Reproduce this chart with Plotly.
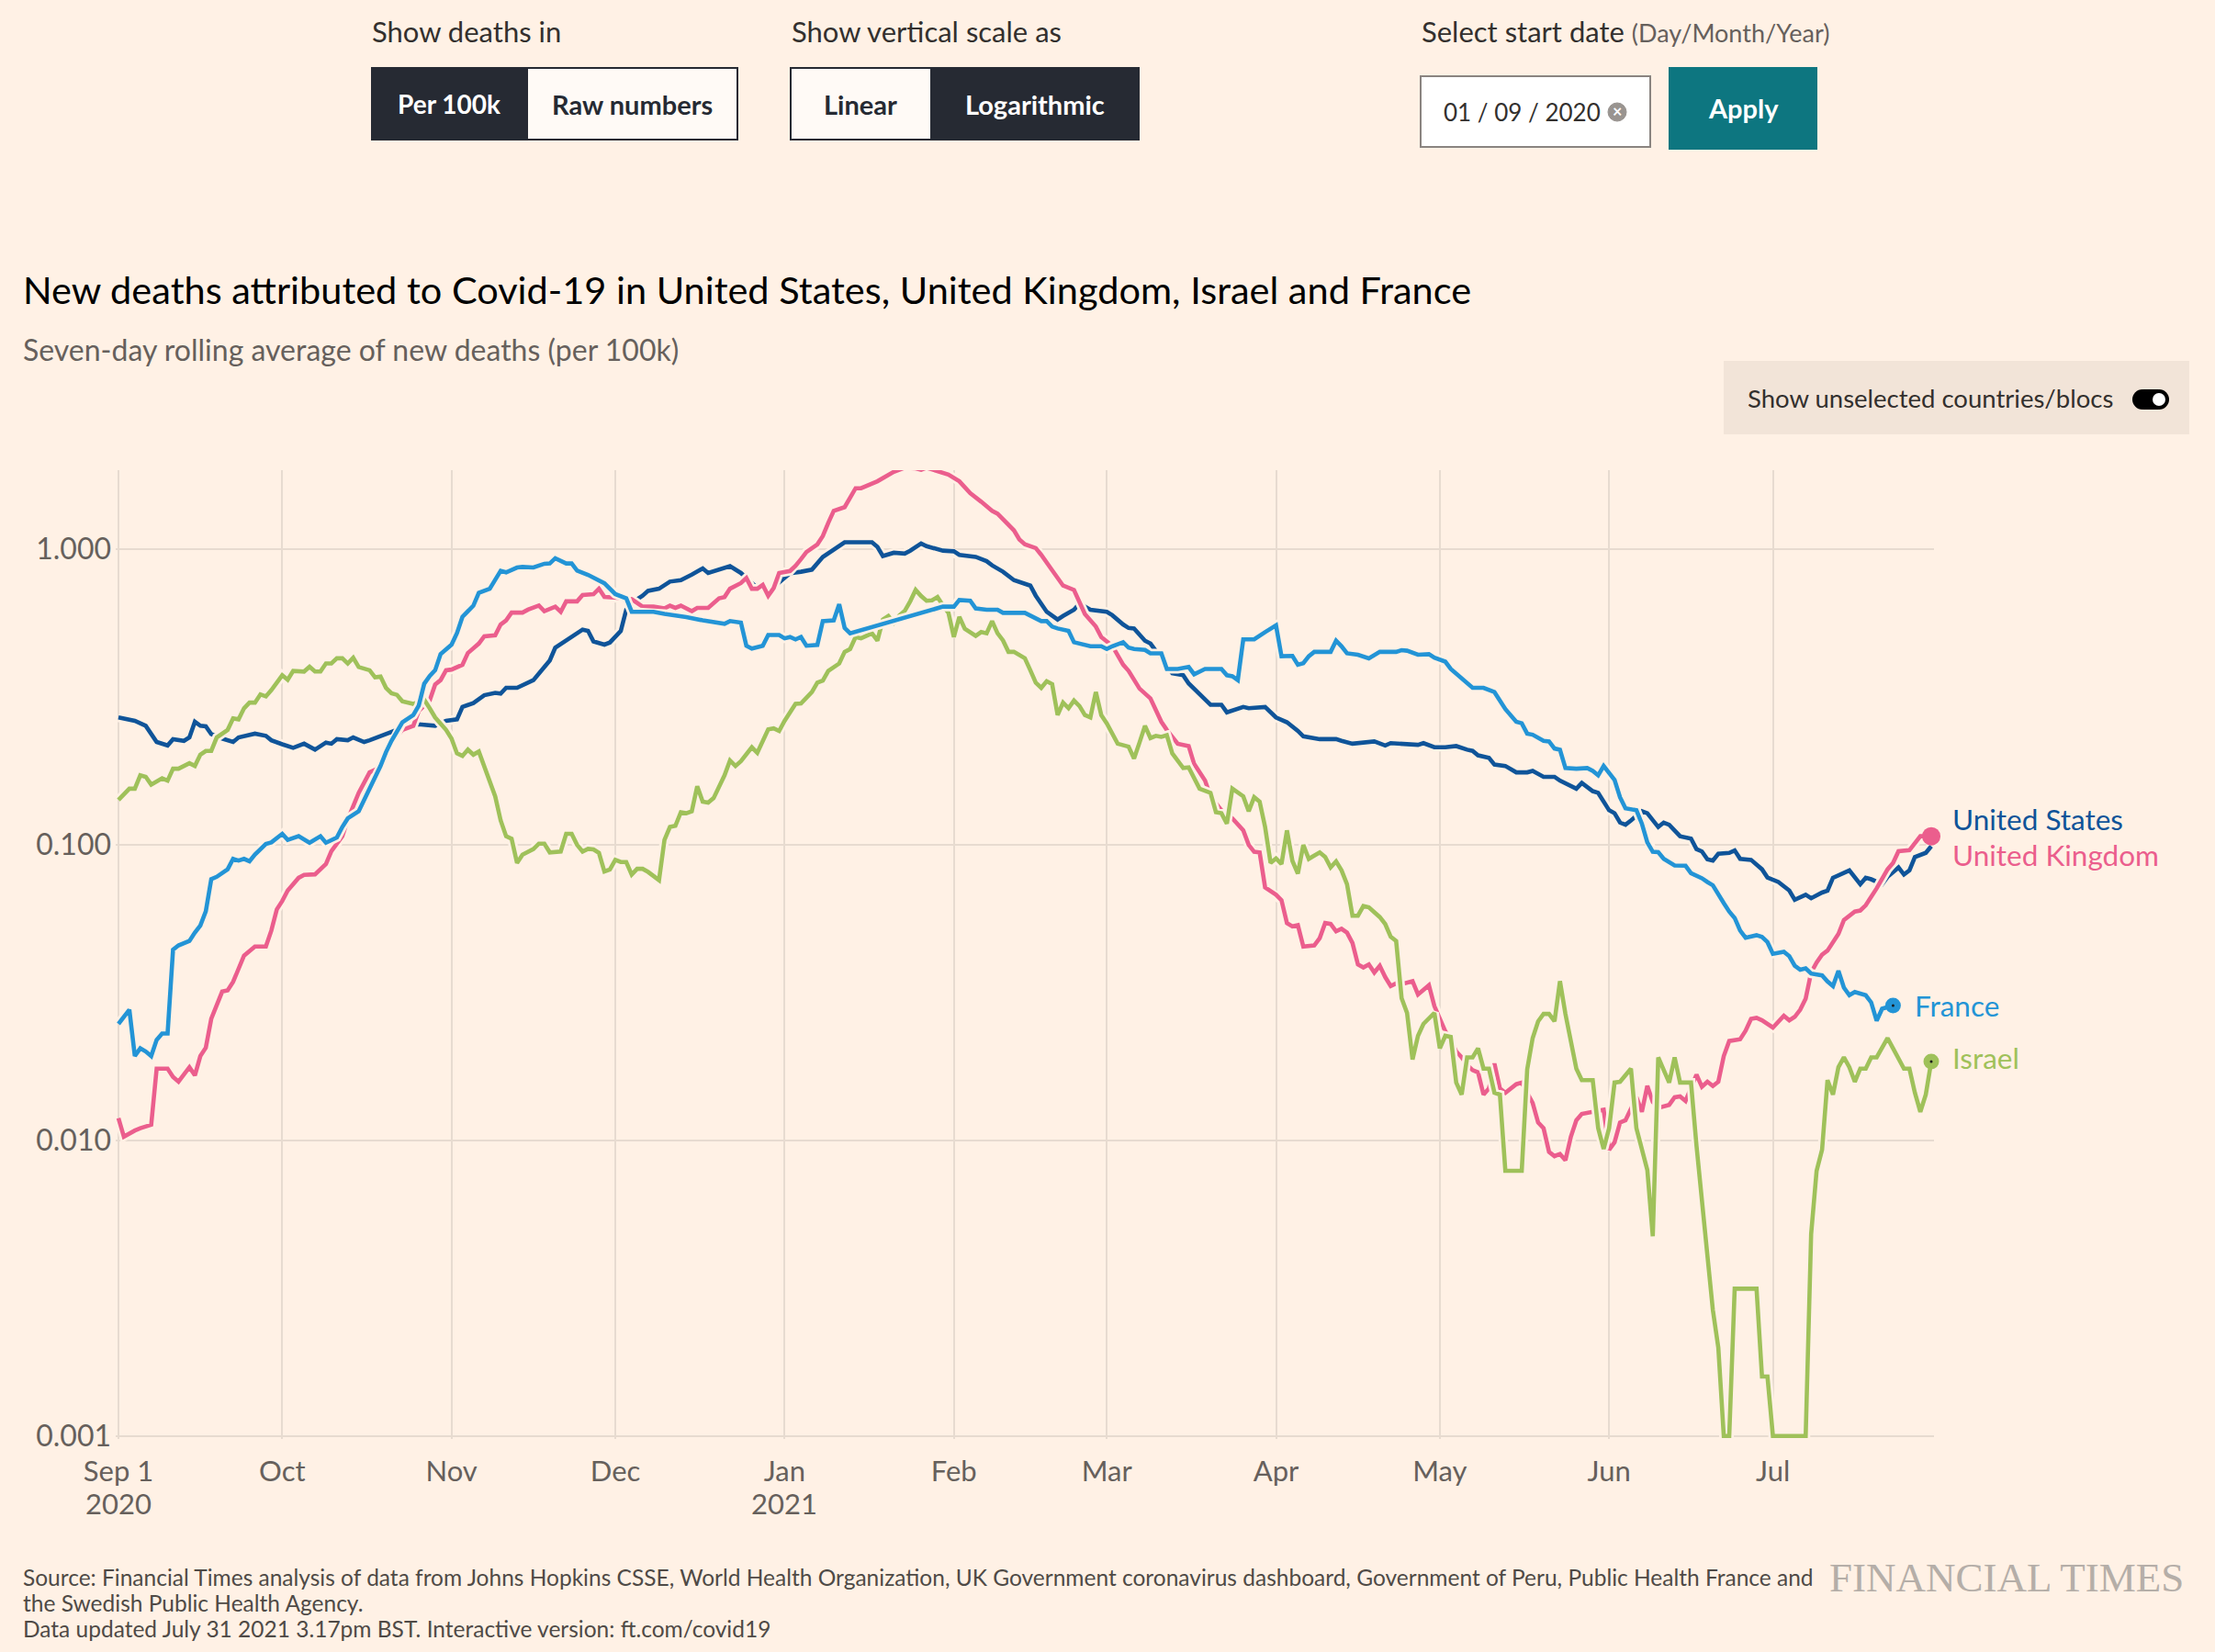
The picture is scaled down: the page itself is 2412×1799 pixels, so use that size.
import pandas as pd
import plotly.graph_objects as go

# Seven-day rolling average of new deaths per 100k.
# Days are counted from 1 Sep 2020.
START = pd.Timestamp("2020-09-01")

us_day = [0, 3, 5, 7, 9, 10, 12, 13, 14, 15, 16, 17, 19, 21, 22, 25, 27, 28, 30, 32,
          34, 36, 38, 39, 40, 42, 43, 45, 46, 49, 51, 53, 55, 57, 58, 60, 62, 63, 65, 67,
          69, 70, 71, 73, 75, 76, 77, 79, 80, 83, 85, 86, 87, 89, 90, 92, 93, 95, 96, 97,
          99, 101, 103, 105, 107, 108, 110, 112, 114, 117, 119, 121, 123, 125, 127, 129, 131, 132, 133, 138,
          139, 140, 142, 144, 145, 147, 148, 151, 153, 154, 157, 159, 160, 162, 164, 167, 168, 170, 172, 173,
          175, 176, 178, 181, 182, 184, 185, 186, 188, 189, 191, 193, 195, 196, 200, 202, 203, 206, 207, 210,
          212, 214, 216, 217, 220, 223, 224, 226, 230, 232, 233, 238, 239, 241, 243, 245, 247, 248, 249, 251,
          252, 254, 256, 258, 259, 261, 263, 264, 267, 268, 270, 271, 273, 274, 275, 276, 277, 279, 280, 282,
          283, 284, 286, 288, 289, 290, 291, 292, 293, 295, 296, 297, 299, 300, 301, 302, 304, 306, 307, 309,
          310, 312, 313, 314, 317, 319, 320, 321, 323, 324, 326, 327, 328, 329, 331, 332]
us_val = [0.270, 0.263, 0.253, 0.223, 0.217, 0.228, 0.225, 0.231, 0.261, 0.253, 0.252, 0.237, 0.229, 0.223, 0.231, 0.238, 0.234, 0.226, 0.219, 0.213,
          0.220, 0.210, 0.222, 0.220, 0.228, 0.226, 0.231, 0.223, 0.226, 0.238, 0.245, 0.253, 0.256, 0.255, 0.253, 0.263, 0.266, 0.293, 0.302, 0.321,
          0.327, 0.325, 0.340, 0.340, 0.354, 0.361, 0.380, 0.421, 0.465, 0.505, 0.535, 0.530, 0.488, 0.476, 0.484, 0.530, 0.625, 0.678, 0.697, 0.724,
          0.736, 0.778, 0.787, 0.821, 0.862, 0.832, 0.854, 0.877, 0.832, 0.740, 0.720, 0.774, 0.830, 0.840, 0.854, 0.942, 1.000, 1.030, 1.057, 1.057,
          1.020, 0.949, 0.974, 0.968, 0.990, 1.047, 1.025, 0.990, 0.985, 0.958, 0.943, 0.912, 0.883, 0.840, 0.787, 0.754, 0.697, 0.615, 0.579, 0.595,
          0.625, 0.656, 0.625, 0.615, 0.599, 0.557, 0.542, 0.540, 0.491, 0.480, 0.430, 0.381, 0.375, 0.352, 0.298, 0.298, 0.281, 0.293, 0.290, 0.293,
          0.270, 0.260, 0.243, 0.233, 0.228, 0.228, 0.225, 0.220, 0.224, 0.217, 0.221, 0.218, 0.221, 0.214, 0.214, 0.216, 0.210, 0.208, 0.201, 0.197,
          0.187, 0.185, 0.176, 0.176, 0.178, 0.170, 0.170, 0.165, 0.155, 0.162, 0.152, 0.150, 0.131, 0.128, 0.119, 0.117, 0.121, 0.130, 0.128, 0.115,
          0.119, 0.117, 0.107, 0.105, 0.0968, 0.0950, 0.0894, 0.0885, 0.0933, 0.0940, 0.0958, 0.0897, 0.0890, 0.0860, 0.0827, 0.0776, 0.0749, 0.0701, 0.0652, 0.0678,
          0.0660, 0.0690, 0.0700, 0.0774, 0.0820, 0.0736, 0.0774, 0.0765, 0.0736, 0.0780, 0.0839, 0.0794, 0.0820, 0.0910, 0.0940, 0.0990]

uk_day = [0, 1, 3, 4, 6, 7, 9, 10, 11, 13, 14, 15, 16, 17, 19, 20, 21, 23, 25, 27,
          28, 29, 30, 31, 33, 34, 36, 38, 39, 41, 42, 43, 44, 46, 48, 49, 50, 52, 54, 55,
          57, 58, 59, 60, 61, 63, 64, 66, 67, 69, 70, 71, 72, 74, 75, 77, 78, 80, 81, 82,
          84, 85, 87, 88, 89, 92, 94, 96, 98, 100, 101, 102, 103, 105, 106, 108, 109, 110, 111, 112,
          114, 115, 116, 117, 118, 119, 120, 121, 123, 124, 125, 126, 128, 129, 130, 131, 133, 135, 136, 138,
          139, 142, 144, 146, 147, 148, 152, 154, 156, 158, 160, 161, 164, 165, 166, 168, 169, 171, 173, 175,
          176, 177, 179, 180, 182, 184, 185, 187, 189, 191, 192, 194, 196, 197, 199, 200, 202, 204, 206, 207,
          208, 209, 210, 212, 213, 214, 215, 216, 217, 219, 220, 221, 222, 223, 224, 225, 226, 227, 228, 229,
          230, 231, 232, 233, 234, 235, 237, 238, 240, 241, 243, 244, 245, 246, 247, 248, 249, 250, 251, 252,
          253, 254, 256, 257, 259, 260, 261, 262, 263, 264, 265, 266, 267, 268, 270, 272, 273, 274, 275, 276,
          278, 279, 280, 281, 282, 284, 285, 286, 287, 289, 290, 291, 292, 293, 294, 295, 297, 298, 299, 300,
          301, 303, 305, 306, 307, 308, 309, 310, 311, 312, 313, 314, 315, 316, 318, 319, 320, 322, 323, 324,
          325, 326, 328, 329, 330, 332]
uk_val = [0.0119, 0.0103, 0.0108, 0.0110, 0.0113, 0.0175, 0.0175, 0.0164, 0.0158, 0.0177, 0.0166, 0.0193, 0.0206, 0.0258, 0.0319, 0.0322, 0.0344, 0.0422, 0.0453, 0.0453,
          0.0513, 0.0605, 0.0646, 0.0701, 0.0774, 0.0792, 0.0795, 0.0862, 0.0952, 0.107, 0.122, 0.135, 0.150, 0.176, 0.183, 0.204, 0.223, 0.245, 0.253, 0.284,
          0.308, 0.349, 0.361, 0.390, 0.392, 0.407, 0.446, 0.480, 0.508, 0.512, 0.557, 0.575, 0.611, 0.611, 0.625, 0.646, 0.618, 0.640, 0.615, 0.667,
          0.667, 0.701, 0.705, 0.736, 0.690, 0.685, 0.678, 0.640, 0.640, 0.631, 0.645, 0.634, 0.645, 0.618, 0.634, 0.634, 0.656, 0.683, 0.690, 0.736,
          0.769, 0.800, 0.736, 0.736, 0.758, 0.697, 0.740, 0.832, 0.845, 0.880, 0.927, 0.980, 1.04, 1.11, 1.23, 1.35, 1.39, 1.61, 1.61, 1.66,
          1.70, 1.83, 1.89, 1.88, 1.86, 1.89, 1.79, 1.70, 1.55, 1.45, 1.35, 1.32, 1.16, 1.08, 1.04, 1.01, 0.958, 0.850, 0.754, 0.729,
          0.667, 0.604, 0.548, 0.505, 0.472, 0.407, 0.388, 0.338, 0.313, 0.261, 0.245, 0.220, 0.216, 0.188, 0.165, 0.146, 0.131, 0.123, 0.112, 0.100,
          0.0948, 0.0943, 0.0718, 0.0678, 0.0650, 0.0544, 0.0530, 0.0535, 0.0453, 0.0457, 0.0484, 0.0544, 0.0540, 0.0510, 0.0520, 0.0505, 0.0466, 0.0394, 0.0385, 0.0394,
          0.0370, 0.0390, 0.0357, 0.0333, 0.0340, 0.0338, 0.0346, 0.0312, 0.0335, 0.0285, 0.0234, 0.0219, 0.0200, 0.0191, 0.0180, 0.0173, 0.0170, 0.0143, 0.0150, 0.0182,
          0.0150, 0.0145, 0.0155, 0.0157, 0.0134, 0.0115, 0.0110, 0.00915, 0.00885, 0.00900, 0.00857, 0.0103, 0.0117, 0.0123, 0.0125, 0.0127, 0.0093, 0.00986, 0.0115, 0.0117,
          0.0140, 0.0125, 0.0153, 0.0135, 0.0129, 0.0132, 0.0140, 0.0141, 0.0136, 0.0167, 0.0152, 0.0158, 0.0153, 0.0158, 0.0193, 0.0217, 0.0220, 0.0235, 0.0258, 0.0260,
          0.0255, 0.0241, 0.0264, 0.0255, 0.0262, 0.0277, 0.0302, 0.0370, 0.0400, 0.0425, 0.0439, 0.0466, 0.0500, 0.0557, 0.0595, 0.0600, 0.0625, 0.0713, 0.0774, 0.0827,
          0.0869, 0.0952, 0.0960, 0.102, 0.107, 0.107]

fr_day = [0, 2, 3, 4, 5, 6, 7, 8, 9, 10, 11, 13, 14, 15, 16, 17, 18, 20, 21, 22,
          23, 24, 25, 27, 28, 30, 31, 33, 35, 36, 37, 38, 40, 41, 42, 44, 45, 47, 48, 49,
          50, 52, 54, 55, 56, 57, 58, 59, 61, 62, 63, 65, 66, 68, 70, 71, 73, 74, 76, 78,
          79, 80, 82, 83, 84, 86, 88, 89, 91, 93, 94, 97, 98, 100, 102, 104, 107, 109, 111, 112,
          114, 115, 116, 118, 119, 121, 122, 123, 124, 125, 126, 128, 129, 131, 132, 133, 134, 151, 153, 154,
          156, 157, 159, 161, 162, 166, 167, 169, 170, 171, 172, 174, 175, 177, 178, 180, 181, 182, 184, 185,
          186, 188, 189, 191, 192, 194, 196, 197, 199, 202, 203, 204, 205, 206, 208, 210, 212, 213, 215, 216,
          217, 218, 219, 222, 223, 224, 225, 227, 229, 231, 234, 235, 236, 238, 240, 241, 243, 244, 247, 248,
          250, 252, 254, 256, 257, 258, 259, 261, 262, 263, 264, 265, 267, 269, 270, 271, 272, 274, 275, 276,
          278, 279, 280, 281, 282, 283, 285, 287, 288, 290, 291, 292, 294, 295, 296, 297, 298, 300, 301, 302,
          303, 305, 306, 307, 308, 309, 310, 312, 313, 314, 315, 316, 317, 318, 320, 321, 322, 323, 325]
fr_val = [0.0248, 0.0277, 0.0193, 0.0205, 0.0200, 0.0193, 0.0219, 0.0230, 0.0230, 0.0442, 0.0457, 0.0473, 0.0505, 0.0534, 0.0596, 0.0766, 0.0780, 0.0827, 0.0897, 0.0885,
          0.0897, 0.0880, 0.0928, 0.1007, 0.102, 0.109, 0.104, 0.107, 0.1017, 0.104, 0.107, 0.1017, 0.106, 0.115, 0.123, 0.130, 0.142, 0.170, 0.185, 0.206,
          0.225, 0.260, 0.275, 0.296, 0.351, 0.373, 0.390, 0.442, 0.476, 0.521, 0.591, 0.645, 0.713, 0.736, 0.846, 0.836, 0.868, 0.872, 0.868, 0.894,
          0.896, 0.933, 0.896, 0.896, 0.848, 0.820, 0.787, 0.768, 0.706, 0.683, 0.615, 0.612, 0.615, 0.605, 0.599, 0.590, 0.575, 0.567, 0.560, 0.572,
          0.565, 0.472, 0.462, 0.472, 0.513, 0.513, 0.500, 0.505, 0.496, 0.505, 0.472, 0.475, 0.572, 0.575, 0.652, 0.542, 0.520, 0.640, 0.640, 0.674,
          0.670, 0.631, 0.625, 0.625, 0.610, 0.610, 0.598, 0.572, 0.572, 0.548, 0.540, 0.530, 0.485, 0.477, 0.470, 0.470, 0.460, 0.470, 0.485, 0.465,
          0.460, 0.457, 0.445, 0.445, 0.394, 0.394, 0.400, 0.378, 0.394, 0.394, 0.375, 0.372, 0.361, 0.496, 0.496, 0.525, 0.553, 0.435, 0.436, 0.407,
          0.412, 0.435, 0.450, 0.450, 0.491, 0.470, 0.445, 0.440, 0.428, 0.450, 0.450, 0.456, 0.454, 0.440, 0.442, 0.430, 0.417, 0.394, 0.351, 0.340,
          0.340, 0.329, 0.288, 0.261, 0.258, 0.238, 0.236, 0.225, 0.224, 0.212, 0.210, 0.182, 0.181, 0.182, 0.178, 0.172, 0.185, 0.166, 0.145, 0.133,
          0.131, 0.118, 0.102, 0.0948, 0.0945, 0.0897, 0.0852, 0.0850, 0.0802, 0.0771, 0.0749, 0.0730, 0.0635, 0.0595, 0.0566, 0.0513, 0.0485, 0.0495, 0.0488, 0.0469,
          0.0428, 0.0435, 0.0420, 0.0390, 0.0378, 0.0382, 0.0367, 0.0362, 0.0345, 0.0333, 0.0375, 0.0329, 0.0310, 0.0318, 0.0310, 0.0293, 0.0254, 0.0279, 0.0286]

il_day = [0, 2, 3, 4, 5, 6, 8, 9, 10, 11, 13, 14, 15, 16, 17, 18, 20, 21, 22, 23,
          24, 25, 26, 27, 28, 30, 31, 32, 34, 35, 36, 37, 38, 39, 40, 41, 42, 43, 44, 46,
          47, 48, 49, 50, 51, 52, 54, 55, 56, 57, 58, 60, 61, 62, 63, 64, 65, 66, 67, 68,
          69, 70, 71, 72, 73, 74, 76, 77, 78, 79, 80, 81, 82, 83, 84, 85, 86, 87, 88, 89,
          90, 91, 92, 93, 94, 95, 96, 97, 99, 100, 101, 102, 103, 104, 105, 106, 107, 108, 109, 110,
          111, 112, 113, 114, 116, 117, 118, 119, 120, 121, 122, 123, 124, 125, 127, 128, 129, 130, 131, 132,
          133, 134, 135, 136, 137, 138, 139, 140, 141, 142, 143, 144, 145, 146, 147, 148, 149, 150, 151, 152,
          153, 154, 155, 156, 157, 158, 159, 160, 161, 162, 163, 164, 165, 166, 167, 168, 169, 170, 171, 172,
          173, 174, 175, 176, 177, 178, 179, 180, 181, 182, 183, 185, 186, 187, 188, 189, 190, 191, 192, 193,
          195, 196, 197, 198, 200, 201, 202, 203, 204, 206, 207, 208, 209, 210, 211, 212, 213, 214, 215, 216,
          217, 218, 219, 220, 221, 222, 223, 224, 225, 226, 227, 228, 229, 230, 231, 232, 233, 234, 235, 236,
          237, 238, 239, 241, 242, 243, 244, 245, 246, 247, 248, 249, 250, 251, 252, 253, 254, 257, 258, 259,
          260, 261, 262, 263, 264, 265, 266, 267, 268, 270, 271, 272, 273, 274, 275, 277, 278, 280, 281, 282,
          284, 285, 286, 288, 289, 290, 291, 292, 293, 294, 295, 296, 300, 301, 302, 303, 309, 310, 311, 312,
          313, 314, 315, 316, 317, 318, 319, 320, 321, 322, 324, 325, 326, 327, 328, 329, 330, 331, 332]
il_val = [0.142, 0.155, 0.155, 0.172, 0.170, 0.160, 0.168, 0.165, 0.181, 0.181, 0.189, 0.185, 0.202, 0.208, 0.208, 0.231, 0.245, 0.268, 0.266, 0.290,
          0.303, 0.303, 0.323, 0.318, 0.334, 0.375, 0.362, 0.388, 0.386, 0.401, 0.386, 0.386, 0.411, 0.411, 0.428, 0.428, 0.411, 0.430, 0.400, 0.390,
          0.369, 0.371, 0.340, 0.326, 0.322, 0.306, 0.300, 0.305, 0.310, 0.290, 0.270, 0.245, 0.229, 0.204, 0.200, 0.210, 0.202, 0.207, 0.185, 0.162,
          0.146, 0.121, 0.107, 0.105, 0.0869, 0.0927, 0.0968, 0.101, 0.101, 0.0943, 0.0950, 0.0950, 0.109, 0.109, 0.100, 0.0950, 0.0970, 0.0965, 0.0940, 0.0813,
          0.0826, 0.0890, 0.0875, 0.0875, 0.0794, 0.0830, 0.0830, 0.0810, 0.0760, 0.104, 0.115, 0.116, 0.129, 0.128, 0.130, 0.158, 0.140, 0.139, 0.144, 0.158,
          0.172, 0.193, 0.185, 0.192, 0.214, 0.205, 0.225, 0.246, 0.248, 0.243, 0.263, 0.280, 0.300, 0.301, 0.329, 0.354, 0.360, 0.388, 0.401, 0.411,
          0.450, 0.460, 0.505, 0.500, 0.510, 0.520, 0.491, 0.579, 0.595, 0.565, 0.597, 0.619, 0.667, 0.729, 0.695, 0.670, 0.672, 0.690, 0.646, 0.610,
          0.505, 0.591, 0.539, 0.525, 0.510, 0.525, 0.520, 0.572, 0.520, 0.492, 0.450, 0.450, 0.440, 0.428, 0.390, 0.354, 0.340, 0.358, 0.350, 0.275,
          0.303, 0.290, 0.308, 0.295, 0.275, 0.270, 0.329, 0.275, 0.258, 0.237, 0.220, 0.215, 0.196, 0.222, 0.253, 0.230, 0.234, 0.232, 0.235, 0.204,
          0.182, 0.183, 0.168, 0.155, 0.150, 0.129, 0.128, 0.118, 0.155, 0.146, 0.130, 0.145, 0.140, 0.115, 0.0869, 0.0900, 0.0862, 0.112, 0.0883, 0.0800,
          0.100, 0.0897, 0.0920, 0.0943, 0.0910, 0.0840, 0.0880, 0.0820, 0.0736, 0.0576, 0.0576, 0.0621, 0.0615, 0.0590, 0.0570, 0.0540, 0.0489, 0.0473, 0.0303, 0.0270,
          0.0188, 0.0226, 0.0248, 0.0270, 0.0205, 0.0226, 0.0224, 0.0157, 0.0143, 0.0191, 0.0191, 0.0205, 0.0175, 0.0175, 0.0145, 0.0143, 0.00789, 0.00789, 0.0174, 0.0222,
          0.0253, 0.0268, 0.0268, 0.0253, 0.0346, 0.0268, 0.0219, 0.0175, 0.0160, 0.0160, 0.0110, 0.00936, 0.0110, 0.0157, 0.0158, 0.0175, 0.0110, 0.00794, 0.00474, 0.0191,
          0.0157, 0.0191, 0.0157, 0.0157, 0.00962, 0.00649, 0.00409, 0.00267, 0.00199, 0.001, 0.001, 0.00315, 0.00315, 0.00159, 0.00159, 0.001, 0.001, 0.00482, 0.00789, 0.0093,
          0.0160, 0.0143, 0.0177, 0.0191, 0.0177, 0.0158, 0.0175, 0.0175, 0.0191, 0.0191, 0.0222, 0.0205, 0.0188, 0.0175, 0.0175, 0.0145, 0.0125, 0.0143, 0.0185]

series = [
    ("United States", us_day, us_val, "#0f5499"),
    ("United Kingdom", uk_day, uk_val, "#eb5e8d"),
    ("Israel", il_day, il_val, "#9fc15a"),
    ("France", fr_day, fr_val, "#2394d6"),
]

month_ticks = ["2020-09-01", "2020-10-01", "2020-11-01", "2020-12-01", "2021-01-01", "2021-02-01",
               "2021-03-01", "2021-04-01", "2021-05-01", "2021-06-01", "2021-07-01"]
month_labels = ["Sep 1", "Oct", "Nov", "Dec", "Jan", "Feb",
                "Mar", "Apr", "May", "Jun", "Jul"]
year_ticks = ["2020-09-01", "2021-01-01"]
year_labels = ["2020", "2021"]
y_ticks = [0.001, 0.01, 0.1, 1]
y_labels = ["0.001", "0.010", "0.100", "1.000"]

BG = "#fff1e5"
GRID = "#e7dbd0"
FONT = "Lato"
TICK = "#66605c"

# pixel geometry of the plot area
W, H = 2412, 1799
L, R, T, B = 126, 2106, 512, 1567


def px(x):
    return (x - L) / (R - L)


def py(y):
    return (B - y) / (B - T)


fig = go.Figure()

for name, days, vals, color in series:
    dates = START + pd.to_timedelta(days, unit="D")
    fig.add_trace(go.Scatter(x=dates, y=vals, mode="lines", hoverinfo="skip",
                             line=dict(color=BG, width=10), showlegend=False))
    fig.add_trace(go.Scatter(x=dates, y=vals, mode="lines", name=name,
                             line=dict(color=color, width=4.6), showlegend=False))

# end-of-line dots (the US one sits hidden under the UK one in the original)
for name, days, vals, color in series:
    if name == "United States":
        continue
    size = 20 if name == "United Kingdom" else 17
    end_x = [START + pd.Timedelta(days=days[-1])]
    fig.add_trace(go.Scatter(x=end_x, y=[vals[-1]], mode="markers",
                             marker=dict(color=color, size=size),
                             cliponaxis=False, showlegend=False, hoverinfo="skip"))
    if name != "United Kingdom":
        fig.add_trace(go.Scatter(x=end_x, y=[vals[-1]], mode="markers",
                                 marker=dict(color="#1a1a1a", size=3),
                                 cliponaxis=False, showlegend=False, hoverinfo="skip"))

fig.update_xaxes(type="date", range=["2020-08-31 12:00", "2021-07-30 12:00"],
                 tickvals=month_ticks, ticktext=month_labels,
                 showgrid=True, gridcolor=GRID, gridwidth=2,
                 showline=False, zeroline=False, ticks="", ticklabelstandoff=14,
                 tickfont=dict(family=FONT, size=31, color=TICK))
fig.update_yaxes(type="log", range=[-3.01, 0.268],
                 tickvals=y_ticks, ticktext=y_labels,
                 showgrid=True, gridcolor=GRID, gridwidth=2,
                 showline=False, zeroline=False, ticks="", ticklabelstandoff=4,
                 tickfont=dict(family=FONT, size=32, color=TICK))

shapes = []
ann = []


def box(x0, y0, x1, y1, fill, line=None, lw=2):
    shapes.append(dict(type="rect", xref="paper", yref="paper",
                       x0=px(x0), x1=px(x1), y0=py(y1), y1=py(y0),
                       fillcolor=fill, line=dict(color=line or fill, width=lw)))


def text(x, y, s, size, color, xanchor="left", bold=False, family=FONT):
    if bold:
        s = "<b>" + s + "</b>"
    ann.append(dict(xref="paper", yref="paper", x=px(x), y=py(y), text=s,
                    showarrow=False, xanchor=xanchor, yanchor="middle",
                    font=dict(family=family, size=size, color=color)))


# year line under the month ticks
for d, lab in zip(year_ticks, year_labels):
    ann.append(dict(xref="x", yref="paper", x=d, y=py(1637), text=lab,
                    showarrow=False, xanchor="center", yanchor="middle",
                    font=dict(family=FONT, size=31, color=TICK)))

DARK = "#262a33"
# controls
text(403, 34, "Show deaths in", 31, "#33302e")
box(405, 74, 574, 152, DARK)
box(574, 74, 803, 152, "#fffaf6", DARK)
text(489, 113, "Per 100k", 28, "#ffffff", "center", True)
text(688, 113, "Raw numbers", 29, DARK, "center", True)

text(860, 34, "Show vertical scale as", 31, "#33302e")
box(861, 74, 1014, 152, "#fffaf6", DARK)
box(1014, 74, 1240, 152, DARK)
text(937, 113, "Linear", 29, DARK, "center", True)
text(1127, 113, "Logarithmic", 29, "#ffffff", "center", True)

text(1546, 34, "Select start date <span style='font-size:27px;color:#66605c'>(Day/Month/Year)</span>",
     31, "#33302e")
box(1547, 83, 1797, 160, "#ffffff", "#8a8480")
text(1570, 122, "01 / 09 / 2020", 26, "#33302e")
shapes.append(dict(type="circle", xref="paper", yref="paper",
                   x0=px(1751), x1=px(1771), y0=py(132), y1=py(112),
                   fillcolor="#999490", line=dict(color="#999490", width=1)))
text(1761, 121, "×", 18, "#ffffff", "center", True)
box(1818, 74, 1978, 162, "#0d7680")
text(1898, 118, "Apply", 29, "#ffffff", "center", True)

# title block
text(23, 315, "New deaths attributed to Covid-19 in United States, United Kingdom, Israel and France",
     41.5, "#000000")
text(23, 381, "Seven-day rolling average of new deaths (per 100k)", 32, "#66605c")

box(1878, 394, 2383, 472, "#f2e4d8")
text(1901, 434, "Show unselected countries/blocs", 27.5, "#33302e")
shapes.append(dict(type="rect", xref="paper", yref="paper",
                   x0=px(2334), x1=px(2350), y0=py(446), y1=py(424),
                   fillcolor="#000000", line=dict(width=0)))
for cx in (2333, 2351):
    shapes.append(dict(type="circle", xref="paper", yref="paper",
                       x0=px(cx - 11), x1=px(cx + 11), y0=py(446), y1=py(424),
                       fillcolor="#000000", line=dict(width=0)))
shapes.append(dict(type="circle", xref="paper", yref="paper",
                   x0=px(2344), x1=px(2358), y0=py(442), y1=py(428),
                   fillcolor="#ffffff", line=dict(width=0)))

# line labels
text(2124, 892, "United States", 31.5, "#0f5499")
text(2124, 931, "United Kingdom", 31.5, "#eb5e8d")
text(2083, 1095, "France", 31.5, "#2394d6")
text(2124, 1152, "Israel", 31.5, "#9fc15a")

# footer
footer = ["Source: Financial Times analysis of data from Johns Hopkins CSSE, World Health Organization, "
          "UK Government coronavirus dashboard, Government of Peru, Public Health France and",
          "the Swedish Public Health Agency.",
          "Data updated July 31 2021 3.17pm BST. Interactive version: ft.com/covid19"]
for yy, line in zip((1717, 1745, 1773), footer):
    text(23, yy, line, 24.5, "#4f4a46")
text(2380, 1718, "FINANCIAL TIMES", 45, "#b5aea8", "right", family="Liberation Serif")

fig.update_layout(width=W, height=H, paper_bgcolor=BG, plot_bgcolor=BG,
                  margin=dict(l=L, r=W - R, t=T, b=H - B),
                  shapes=shapes, annotations=ann, showlegend=False,
                  font=dict(family=FONT, color="#33302e"))

fig.write_html("out.html", config={"displayModeBar": False},
               post_script="document.body.style.margin='0';")
